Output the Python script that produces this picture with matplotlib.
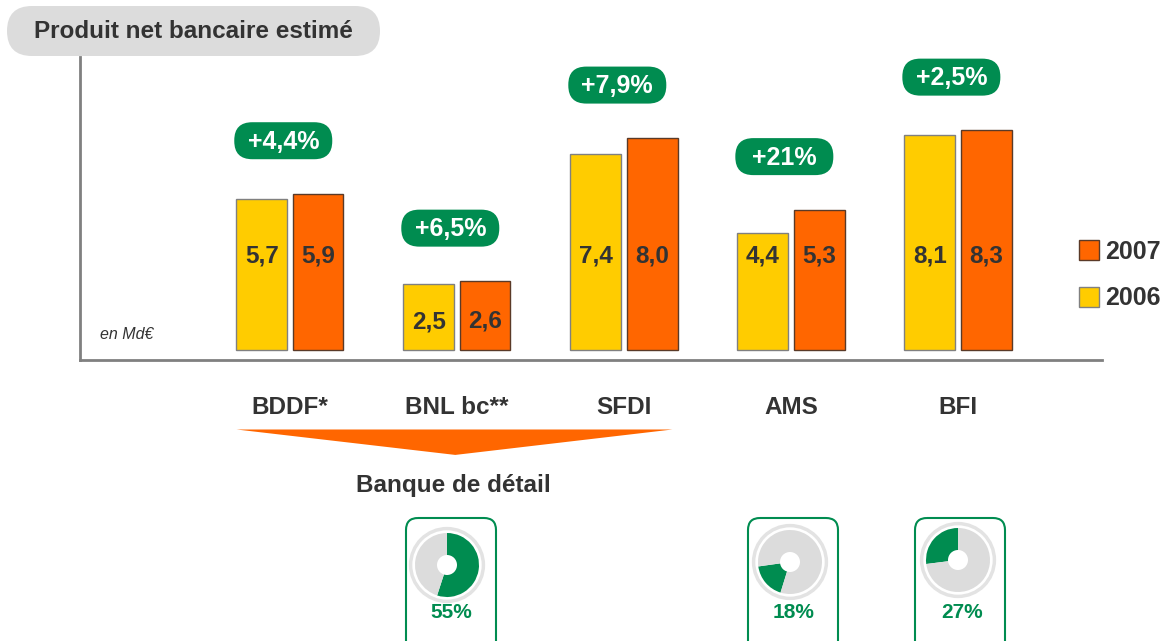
import matplotlib

matplotlib.use("Agg")
import matplotlib.pyplot as plt
from matplotlib.patches import FancyBboxPatch, Polygon, Circle
from matplotlib.lines import Line2D
import numpy as np

plt.rcParams["font.family"] = ["Liberation Sans", "DejaVu Sans"]

categories = ["BDDF*", "BNL bc**", "SFDI", "AMS", "BFI"]
values_2006 = [5.7, 2.5, 7.4, 4.4, 8.1]
values_2007 = [5.9, 2.6, 8.0, 5.3, 8.3]
growth = ["+4,4%", "+6,5%", "+7,9%", "+21%", "+2,5%"]
value_labels_2006 = ["5,7", "2,5", "7,4", "4,4", "8,1"]
value_labels_2007 = ["5,9", "2,6", "8,0", "5,3", "8,3"]

share_labels = ["55%", "18%", "27%"]
shares = [55, 18, 27]
share_start = [90, 188, 90]
share_ccw = [False, True, True]

YELLOW = "#FFCC00"
ORANGE = "#FF6600"
GREEN = "#008C50"
DARK = "#333333"

W, H = 1167, 641
fig = plt.figure(figsize=(W / 100, H / 100), dpi=100)

# pixel-space overlay (y measured from top) for the decorative boxes
bg = fig.add_axes([0, 0, 1, 1], zorder=-1)
bg.set_xlim(0, W)
bg.set_ylim(H, 0)
bg.axis("off")

ax = fig.add_axes([80 / W, 1 - 360 / H, (1102 - 80) / W, (360 - 57) / H])
ax.patch.set_alpha(0)
x = np.arange(len(categories))
bw = 0.305
off = 0.168
ax.bar(x - off, values_2006, bw, color=YELLOW, edgecolor="#808080", linewidth=1, label="2006")
ax.bar(x + off, values_2007, bw, color=ORANGE, edgecolor="#5a3a28", linewidth=1, label="2007")

ax.set_xlim(-1.257, 4.862)
ax.set_ylim(-0.377, 11.06)


def to_px(xd, yd):
    px, py = ax.transData.transform((xd, yd))
    return px, H - py


for i in range(len(categories)):
    for dx, v, lab in [(-off, values_2006[i], value_labels_2006[i]),
                       (off, values_2007[i], value_labels_2007[i])]:
        ly = 3.55 if v >= 4 else v * 0.42
        ax.text(i + dx, ly, lab, ha="center", va="center",
                fontsize=17.5, fontweight="bold", color=DARK)
    top = max(values_2006[i], values_2007[i])
    gx, gy = to_px(i - 0.04, top + 2.0)
    bg.add_patch(FancyBboxPatch((gx - 49, gy - 18.5), 98, 37,
                                boxstyle="round,pad=0,rounding_size=18",
                                fc=GREEN, ec="none"))
    bg.text(gx, gy + 1, growth[i], ha="center", va="center", fontsize=18,
            fontweight="bold", color="white")

ax.set_xticks(x)
ax.set_xticklabels(categories, fontsize=17.5, fontweight="bold", color=DARK)
ax.tick_params(axis="x", length=0, pad=26)
ax.set_yticks([])
for s in ["top", "right"]:
    ax.spines[s].set_visible(False)
for s in ["left", "bottom"]:
    ax.spines[s].set_color("#808080")
    ax.spines[s].set_linewidth(2)

ax.text(0.02, 0.085, "en Md€", transform=ax.transAxes, fontsize=11.5, style="italic",
        color=DARK, ha="left", va="center")

handles = [Line2D([], [], marker="s", linestyle="none", markersize=15,
                  markerfacecolor=ORANGE, markeredgecolor="#5a3a28"),
           Line2D([], [], marker="s", linestyle="none", markersize=15,
                  markerfacecolor=YELLOW, markeredgecolor="#808080")]
fig.legend(handles, ["2007", "2006"], loc="center left",
           bbox_to_anchor=(1064 / W, 1 - 275 / H), frameon=False, handlelength=1.0,
           handletextpad=0.15, labelspacing=0.9, borderpad=0,
           prop=dict(size=18, weight="bold"), labelcolor=DARK)

# bracket under the retail banking group
tri = Polygon([(-0.32, -3.0), (2.29, -3.0), (0.99, -3.96)],
              closed=True, fc=ORANGE, ec="none", clip_on=False)
ax.add_patch(tri)
ax.text(0.98, -5.13, "Banque de détail", ha="center", va="center", fontsize=17.5,
        fontweight="bold", color=DARK, clip_on=False)

# title box
bg.add_patch(FancyBboxPatch((7, 6), 373, 50, boxstyle="round,pad=0,rounding_size=25",
                            fc="#DCDCDC", ec="none"))
bg.text(193, 31, "Produit net bancaire estimé", ha="center", va="center",
        fontsize=17.5, fontweight="bold", color=DARK)

# share pies
box_left = [406, 748, 915]
pie_cx = [447, 790, 958]
pie_cy = [565, 562, 560]
for k in range(3):
    bg.add_patch(FancyBboxPatch((box_left[k], 518), 90, 150,
                                boxstyle="round,pad=0,rounding_size=12",
                                fc="none", ec=GREEN, lw=1.5))
    r = 40
    pax = fig.add_axes([(pie_cx[k] - r) / W, 1 - (pie_cy[k] + r) / H, 2 * r / W, 2 * r / H])
    pax.pie([shares[k], 100 - shares[k]], colors=[GREEN, "#DCDCDC"], radius=0.8,
            startangle=share_start[k], counterclock=share_ccw[k],
            wedgeprops=dict(linewidth=0))
    pax.add_patch(Circle((0, 0), 0.25, fc="white", ec="none"))
    pax.add_patch(Circle((0, 0), 0.91, fc="none", ec="#E3E3E3", lw=2.5))
    pax.set_xlim(-1, 1)
    pax.set_ylim(-1, 1)
    pax.set_aspect("equal")
    pax.axis("off")
    bg.text(pie_cx[k] + 4, 612, share_labels[k], ha="center", va="center",
            fontsize=15, fontweight="bold", color=GREEN)

fig.savefig("out.png", dpi=100)
